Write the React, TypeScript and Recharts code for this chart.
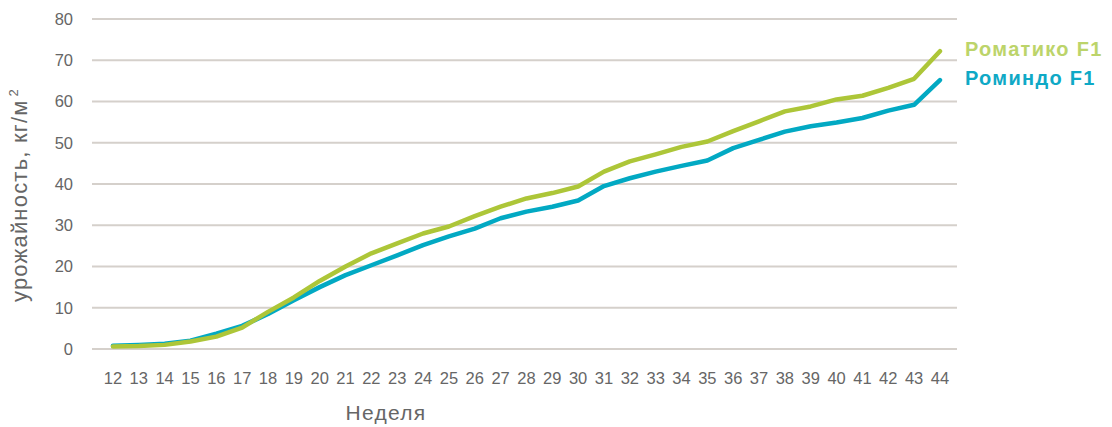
import React from 'react';
import { LineChart, Line, XAxis, YAxis, CartesianGrid } from 'recharts';

const weeks = [12, 13, 14, 15, 16, 17, 18, 19, 20, 21, 22, 23, 24, 25, 26, 27, 28, 29, 30, 31, 32, 33, 34, 35, 36, 37, 38, 39, 40, 41, 42, 43, 44];
const romatiko = [0.6, 0.7, 1.0, 1.8, 3.0, 5.2, 9.0, 12.5, 16.5, 20, 23.2, 25.6, 28, 29.7, 32.2, 34.5, 36.5, 37.8, 39.4, 43, 45.5, 47.2, 49, 50.3, 52.8, 55.2, 57.6, 58.8, 60.5, 61.4, 63.3, 65.5, 72.2];
const romindo = [0.8, 1.0, 1.3, 2.0, 3.7, 5.6, 8.5, 11.8, 15, 17.9, 20.3, 22.7, 25.2, 27.3, 29.2, 31.7, 33.3, 34.5, 36, 39.5, 41.4, 43, 44.4, 45.7, 48.7, 50.7, 52.7, 54, 54.9, 56, 57.8, 59.2, 65.2];
const yTicks = [0, 10, 20, 30, 40, 50, 60, 70, 80];
const seriesNames = ['Роматико F1', 'Роминдо F1'];

const data = weeks.map((w, i) => ({ week: w, romatiko: romatiko[i], romindo: romindo[i] }));

const FONT = '"Liberation Sans", Arial, Helvetica, sans-serif';
const GREEN = '#adc638';
const BLUE = '#02a9c3';
const GREEN_TEXT = '#bcd46a';
const BLUE_TEXT = '#0fa9c6';
const TEXT = '#666666';

const endLabel = (name: string, color: string) => (props: any) => {
  if (props.index !== weeks.length - 1) return null;
  return (
    <text x={props.x + 25} y={props.y + 4.5} fill={color} fontSize={20} fontFamily={FONT} fontWeight={700} letterSpacing={1.3}>
      {name}
    </text>
  );
};

export default function App() {
  return (
    <div style={{ position: 'absolute', left: 0, top: 0, width: 1112, height: 427, background: '#fff' }}>
      <LineChart width={1112} height={427} data={data} margin={{ top: 19, right: 155, bottom: 0, left: 0 }}>
        <CartesianGrid vertical={false} stroke="#d5d0cb" strokeWidth={2} />
        <XAxis
          dataKey="week"
          type="number"
          domain={[11.19, 44.66]}
          ticks={weeks}
          interval={0}
          allowDataOverflow
          axisLine={false}
          tickLine={false}
          tickSize={0}
          tickMargin={23}
          height={78}
          tick={{ fill: TEXT, fontSize: 16.5, fontFamily: FONT }}
          label={{
            content: () => (
              <text x={386} y={420} textAnchor="middle" fill={TEXT} fontSize={21} fontFamily={FONT} letterSpacing={1.3}>
                Неделя
              </text>
            ),
          }}
        />
        <YAxis
          domain={[0, 80]}
          ticks={yTicks}
          interval={0}
          width={92}
          axisLine={false}
          tickLine={false}
          tickSize={0}
          tickMargin={19}
          tick={{ fill: TEXT, fontSize: 16.5, fontFamily: FONT }}
          label={{
            content: () => (
              <text transform="translate(27,195) rotate(-90)" textAnchor="middle" fill={TEXT} fontSize={22} fontFamily={FONT} letterSpacing={1.2}>
                урожайность, кг/м
                <tspan dx={3} dy={-9} fontSize={13}>2</tspan>
              </text>
            ),
          }}
        />
        <Line
          type="linear"
          dataKey="romindo"
          stroke={BLUE}
          strokeWidth={4.5}
          strokeLinecap="round"
          strokeLinejoin="round"
          dot={false}
          activeDot={false}
          isAnimationActive={false}
          label={endLabel(seriesNames[1], BLUE_TEXT)}
        />
        <Line
          type="linear"
          dataKey="romatiko"
          stroke={GREEN}
          strokeWidth={4.5}
          strokeLinecap="round"
          strokeLinejoin="round"
          dot={false}
          activeDot={false}
          isAnimationActive={false}
          label={endLabel(seriesNames[0], GREEN_TEXT)}
        />
      </LineChart>
    </div>
  );
}
